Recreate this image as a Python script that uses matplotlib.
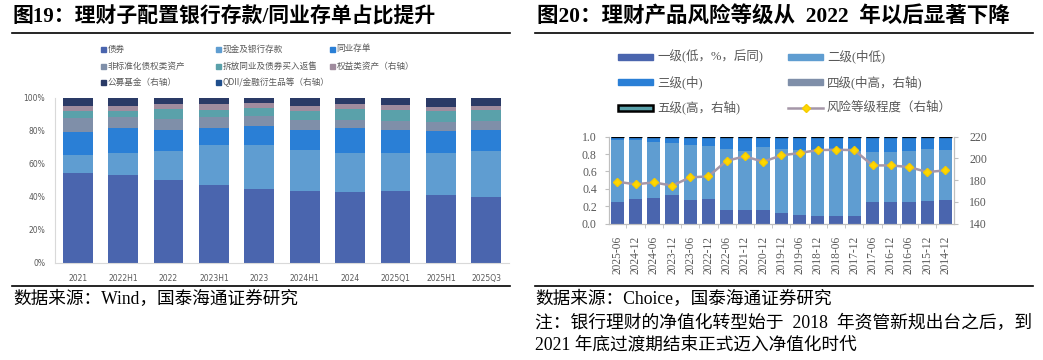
import matplotlib
matplotlib.use('Agg')
import matplotlib.pyplot as plt
from matplotlib.patches import Rectangle
from matplotlib.lines import Line2D
import numpy as np

# ---------------- Left chart data (图19) ----------------
periods = ['2021', '2022H1', '2022', '2023H1', '2023', '2024H1', '2024', '2025Q1', '2025H1', '2025Q3']
bond = [54.1, 53.1, 49.9, 47.3, 44.6, 43.4, 42.8, 43.4, 41.2, 40.0]
cash = [11.4, 13.6, 17.8, 23.8, 26.9, 25.1, 23.9, 23.1, 25.1, 27.7]
ncd = [13.9, 14.9, 12.9, 10.7, 11.3, 12.1, 14.9, 13.7, 13.5, 12.9]
nonstd = [8.3, 6.7, 6.5, 6.7, 6.1, 5.9, 5.1, 5.7, 5.7, 5.3]
lending = [4.0, 3.4, 6.0, 4.2, 4.8, 5.4, 6.4, 6.8, 6.4, 6.8]
equity = [3.2, 3.2, 3.3, 3.3, 3.1, 3.0, 2.9, 2.7, 2.6, 2.2]
fund = [4.7, 4.8, 3.3, 3.7, 2.9, 4.8, 3.7, 4.3, 5.2, 4.8]
qdii = [0.4, 0.3, 0.3, 0.3, 0.3, 0.3, 0.3, 0.3, 0.3, 0.3]
left_names = ['债券', '现金及银行存款', '同业存单', '非标准化债权类资产', '拆放同业及债券买入返售',
              '权益类资产（右轴）', '公募基金（右轴）', 'QDII/金融衍生品等（右轴）']
left_colors = ['#4A65AE', '#5F9DD1', '#2A7FD6', '#7F8FA9', '#5AA1AA', '#A08C9E', '#2A3A66', '#1F4E8C']

# ---------------- Right chart data (图20) ----------------
dates = ['2025-06', '2024-12', '2024-06', '2023-12', '2023-06', '2022-12', '2022-06', '2021-12',
         '2020-12', '2019-12', '2019-06', '2018-12', '2018-06', '2017-12', '2017-06', '2016-12',
         '2016-06', '2015-12', '2014-12']
level1 = [0.253, 0.284, 0.295, 0.333, 0.272, 0.284, 0.161, 0.153, 0.153, 0.123, 0.100, 0.084,
          0.084, 0.084, 0.245, 0.245, 0.253, 0.261, 0.272]
level2 = [0.711, 0.678, 0.646, 0.598, 0.632, 0.609, 0.697, 0.682, 0.728, 0.735, 0.747, 0.751,
          0.751, 0.751, 0.579, 0.579, 0.582, 0.597, 0.575]
level3 = [0.029, 0.031, 0.047, 0.057, 0.084, 0.100, 0.135, 0.158, 0.112, 0.135, 0.146, 0.158,
          0.158, 0.158, 0.169, 0.169, 0.158, 0.135, 0.146]
level4 = [0.004] * 19
level5 = [0.003, 0.003, 0.008, 0.008, 0.008, 0.003, 0.003, 0.003, 0.003, 0.003, 0.003, 0.003,
          0.003, 0.003, 0.003, 0.003, 0.003, 0.003, 0.003]
risk = [178.6, 176.2, 178.0, 175.0, 182.6, 183.5, 197.9, 201.9, 197.0, 202.8, 205.0, 207.7,
        208.0, 207.7, 193.6, 193.6, 192.1, 187.5, 189.0]
right_names = ['一级(低，%，后同)', '二级(中低)', '三级(中)', '四级(中高，右轴)', '五级(高，右轴)', '风险等级程度（右轴）']
right_colors = ['#4A65AE', '#5F9DD1', '#2A7FD6', '#7F8FA9', '#5AA1AA']

W, H = 1043, 360
fig = plt.figure(figsize=(W / 100, H / 100), dpi=100)


def fx(x):
    return x / W


def fy(y):
    return 1 - y / H


serif_cjk = ['Liberation Serif', 'Noto Sans CJK SC']
sans_cjk = ['Noto Sans CJK SC', 'DejaVu Sans']
gray_txt = '#595959'

# ---------------- Titles, rules, sources ----------------
fig.text(fx(13), fy(17), '图19：理财子配置银行存款/同业存单占比提升', fontsize=15,
         fontweight='bold', family=serif_cjk, va='center', ha='left')
fig.text(fx(537), fy(17), '图20：理财产品风险等级从  2022  年以后显著下降', fontsize=15.5,
         fontweight='bold', family=serif_cjk, va='center', ha='left')
for (x0, x1, y) in [(12, 510, 33), (535, 1033, 33), (12, 510, 286), (535, 1033, 286)]:
    fig.add_artist(Line2D([fx(x0), fx(x1)], [fy(y), fy(y)], color='black', lw=1.2))

fig.text(fx(13), fy(299), '数据来源：Wind，国泰海通证券研究', fontsize=12.7, family=serif_cjk,
         va='center', ha='left')
fig.text(fx(535), fy(299), '数据来源：Choice，国泰海通证券研究', fontsize=12.7, family=serif_cjk,
         va='center', ha='left')
fig.text(fx(535), fy(323), '注：银行理财的净值化转型始于  2018  年资管新规出台之后，到', fontsize=12.8,
         family=serif_cjk, va='center', ha='left')
fig.text(fx(535), fy(345), '2021 年底过渡期结束正式迈入净值化时代', fontsize=12.7, family=serif_cjk,
         va='center', ha='left')

# ---------------- Left chart ----------------
ax1 = fig.add_axes([fx(55), fy(262.7), 454 / W, 165 / H])
x = np.arange(len(periods))
left_series = [bond, cash, ncd, nonstd, lending, equity, fund, qdii]
bottom = np.zeros(len(periods))
for vals, c, n in zip(left_series, left_colors, left_names):
    ax1.bar(x, vals, 0.66, bottom=bottom, color=c, label=n, linewidth=0)
    bottom += np.array(vals)
ax1.set_xlim(-0.5, len(periods) - 0.5)
ax1.set_ylim(0, 100)
ax1.set_yticks(np.arange(0, 101, 20))
ax1.set_yticklabels([f'{v}%' for v in range(0, 101, 20)])
ax1.set_xticks(x)
ax1.set_xticklabels(periods)
for s in ['top', 'right']:
    ax1.spines[s].set_visible(False)
for s in ['left', 'bottom']:
    ax1.spines[s].set_color('#D9D9D9')
    ax1.spines[s].set_linewidth(0.8)
ax1.tick_params(axis='both', length=0, labelsize=5.5, labelcolor=gray_txt)
ax1.tick_params(axis='y', pad=7)
ax1.tick_params(axis='x', pad=8)

# left legend (3 columns, row-major)
rows = [49, 66, 82]
cols = [103, 218, 332]
for i, (n, c) in enumerate(zip(left_names, left_colors)):
    r, k = divmod(i, 3)
    xx, yy = cols[k], rows[r]
    fig.add_artist(Rectangle((fx(xx - 2.5), fy(yy + 2.5)), 5 / W, 5 / H, color=c,
                             transform=fig.transFigure))
    fig.text(fx(xx + 4.5), fy(yy), n, fontsize=6.2, family=sans_cjk, color=gray_txt,
             va='center', ha='left')

# ---------------- Right chart ----------------
ax2 = fig.add_axes([fx(609.3), fy(223.7), 344.7 / W, 87 / H])
x2 = np.arange(len(dates))
bottom = np.zeros(len(dates))
right_series = [level1, level2, level3, level4, level5]
for i, (vals, c, n) in enumerate(zip(right_series, right_colors, right_names[:5])):
    if i == 4:
        ax2.bar(x2, vals, 0.73, bottom=bottom, color=c, edgecolor='black', linewidth=0.9, label=n)
    else:
        ax2.bar(x2, vals, 0.73, bottom=bottom, color=c, linewidth=0, label=n)
    bottom += np.array(vals)
ax2.set_xlim(-0.44, len(dates) - 0.53)
ax2.set_ylim(0, 1.0)
ax2.set_yticks(np.arange(0, 1.01, 0.2))
ax2.set_yticklabels([f'{v:.1f}' for v in np.arange(0, 1.01, 0.2)])
ax2.set_xticks(x2)
ax2.set_xticklabels(dates, rotation=90, fontfamily='Liberation Serif')
ax2.set_xticks(x2[:-1] + 0.5, minor=True)

ax2b = ax2.twinx()
ax2b.plot(x2, risk, color='#A597A8', lw=1.8, marker='D', markersize=4,
          markerfacecolor='#FFD700', markeredgecolor='#F5CC00', zorder=5)
ax2b.set_ylim(140, 220)
ax2b.set_yticks(np.arange(140, 221, 20))

for a in (ax2, ax2b):
    a.spines['top'].set_visible(False)
    for s in ['left', 'right', 'bottom']:
        a.spines[s].set_color('#BFBFBF')
        a.spines[s].set_linewidth(0.8)
    for lab in a.get_yticklabels():
        lab.set_fontfamily('Liberation Serif')
ax2.tick_params(axis='y', length=3, color='#BFBFBF', labelsize=8.5, labelcolor=gray_txt, pad=6)
ax2b.tick_params(axis='y', length=3, color='#BFBFBF', labelsize=8.5, labelcolor=gray_txt, pad=8)
ax2.tick_params(axis='x', which='major', length=0, labelsize=8.3, labelcolor=gray_txt, pad=9)
ax2.tick_params(axis='x', which='minor', length=3, color='#BFBFBF')

# right legend (2 columns)
rrows = [56.7, 82.3, 107.7]
rcols = [618, 788]
for i, n in enumerate(right_names):
    r, k = divmod(i, 2)
    xx, yy = rcols[k], rrows[r]
    if i < 4:
        fig.add_artist(Rectangle((fx(xx), fy(yy + 3)), 35 / W, 6 / H, color=right_colors[i],
                                 transform=fig.transFigure))
    elif i == 4:
        fig.add_artist(Rectangle((fx(xx), fy(yy + 3)), 35 / W, 6 / H, facecolor=right_colors[4],
                                 edgecolor='black', linewidth=1.8, transform=fig.transFigure))
    else:
        fig.add_artist(Line2D([fx(xx), fx(xx + 35)], [fy(yy), fy(yy)], color='#A597A8', lw=1.8))
        fig.add_artist(Line2D([fx(xx + 17.5)], [fy(yy)], marker='D', markersize=4, lw=0,
                              markerfacecolor='#FFD700', markeredgecolor='#F5CC00'))
    fig.text(fx(xx + 39), fy(yy), n, fontsize=9, family=serif_cjk, color=gray_txt,
             va='center', ha='left')

fig.savefig('out.png', dpi=100)
